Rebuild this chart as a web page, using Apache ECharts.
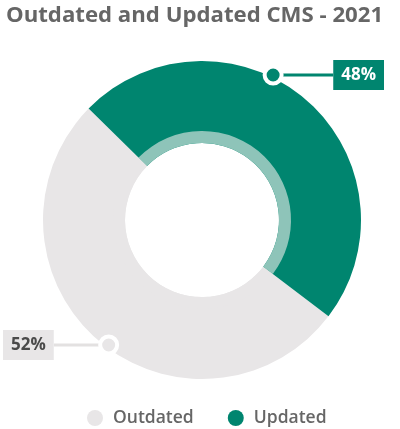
<!DOCTYPE html>
<html>
<head>
<meta charset="utf-8">
<script src="https://cdn.jsdelivr.net/npm/echarts@6/dist/echarts.min.js"></script>
<style>
html,body{margin:0;padding:0;background:#fff;}
#chart{width:400px;height:429px;}
</style>
</head>
<body>
<div id="chart"></div>
<script>
const titleText = 'Outdated and Updated CMS - 2021';
const categories = ['Outdated', 'Updated'];
const values = [52, 48];
const sliceColors = ['#e8e6e7', '#00856f'];
const ringColors = ['#e8e6e7', '#8ec4b9'];
const labelBg = ['#e8e6e7', '#00856f'];
const labelText = ['#4a4a4a', '#ffffff'];
const lineColors = ['#e3e1e1', '#00856f'];

const cx = 202, cy = 220, R = 159, R0 = 77, RR = 89;
const labelY = [345, 75];
const labelX = [3, 384];
const markerR = [156, 161.5];

const chart = echarts.init(document.getElementById('chart'), null, {renderer: 'canvas'});

function markerPoint(i) {
  const y = labelY[i];
  const dy = y - cy;
  const r = markerR[i];
  const dx = Math.sqrt(Math.max(0, r * r - dy * dy));
  return [i === 1 ? cx + dx : cx - dx, y];
}

const mainData = categories.map((c, i) => ({
  name: c, value: values[i],
  itemStyle: {color: sliceColors[i]},
  label: {backgroundColor: labelBg[i], color: labelText[i]},
  labelLine: {lineStyle: {color: lineColors[i]}}
}));
const ringData = categories.map((c, i) => ({
  name: c, value: values[i], itemStyle: {color: ringColors[i]}
}));

const option = {
  animation: false,
  backgroundColor: '#ffffff',
  title: {
    text: titleText, left: 1, top: 0,
    textStyle: {fontFamily: 'Open Sans', fontWeight: 'bold', fontSize: 22.2, color: '#666666'}
  },
  legend: {
    data: categories, top: 404, left: 82, icon: 'circle',
    itemWidth: 16, itemHeight: 16, itemGap: 34,
    textStyle: {fontFamily: 'Open Sans', fontWeight: 600, fontSize: 17.5, color: '#666666', padding: [0, 0, 0, 5]}
  },
  series: [
    {
      type: 'pie', center: [cx, cy], radius: [R0, R], startAngle: -37.3, clockwise: true,
      data: mainData, z: 1,
      emphasis: {disabled: true},
      label: {
        show: true, position: 'outside',
        formatter: p => p.value + '%',
        fontFamily: 'Open Sans', fontWeight: 'bold', fontSize: 17,
        padding: [7, 8, 6, 8]
      },
      labelLine: {show: true, length: 10, length2: 10, lineStyle: {width: 3}},
      labelLayout: function (params) {
        const i = params.dataIndex;
        const m = markerPoint(i);
        const w = params.labelRect.width;
        const edge = i === 1 ? labelX[i] - w : labelX[i] + w;
        return {
          x: i === 1 ? labelX[i] - w : labelX[i],
          y: labelY[i],
          align: 'left', verticalAlign: 'middle',
          labelLinePoints: [m, [(m[0] + edge) / 2, labelY[i]], [edge, labelY[i]]]
        };
      }
    },
    {
      type: 'pie', center: [cx, cy], radius: [R0, RR], startAngle: -37.3, clockwise: true,
      data: ringData, z: 2, silent: true, label: {show: false}, labelLine: {show: false},
      emphasis: {disabled: true}
    }
  ],
  graphic: categories.map((c, i) => {
    const m = markerPoint(i);
    return {
      type: 'circle', z: 100, shape: {cx: m[0], cy: m[1], r: 8.5},
      style: {fill: sliceColors[i], stroke: '#ffffff', lineWidth: 4}
    };
  })
};
chart.setOption(option);
</script>
</body>
</html>
